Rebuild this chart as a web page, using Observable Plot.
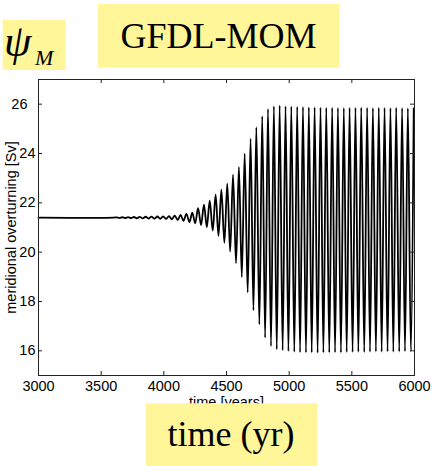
<!DOCTYPE html>
<html><head><meta charset="utf-8">
<script src="https://cdn.jsdelivr.net/npm/d3@7"></script>
<script src="https://cdn.jsdelivr.net/npm/@observablehq/plot@0.6"></script>
<style>
body{margin:0;background:#fff;}
#wrap{position:relative;width:434px;height:466px;overflow:hidden;background:#fff;}
#wrap svg{display:block;}
#wrap svg.overlay{position:absolute;left:0;top:0;}
</style></head><body><div id="wrap"></div>
<script>
// ---- data ----
const flatYears = [3000, 3600];
const flatValues = [21.4, 21.4];

const peakYears = [3622,3669,3715,3762,3808,3855,3901,3948,3994,4041,4087,4134,4180,4227,4273,4320,4366,4413,4459,4506,4552,4599,4645,4692,4738,4785,4831,4878,4924,4971,5017,5064,5110,5157,5203,5250,5296,5343,5389,5436,5482,5529,5575,5622,5668,5715,5761,5808,5854,5901,5947,5994];
const peakValues = [21.41,21.415,21.42,21.425,21.43,21.435,21.44,21.445,21.45,21.46,21.48,21.51,21.55,21.60,21.78,21.93,22.09,22.33,22.53,22.78,23.14,23.46,23.99,24.60,25.07,25.51,25.81,25.92,25.95,25.92,25.91,25.90,25.89,25.88,25.88,25.87,25.86,25.86,25.85,25.85,25.86,25.86,25.87,25.86,25.85,25.86,25.86,25.85,25.86,25.85,25.84,25.83];

const troughYears = [3646,3692,3739,3785,3832,3878,3925,3971,4018,4064,4111,4157,4204,4250,4297,4343,4390,4436,4483,4529,4576,4622,4669,4715,4762,4808,4855,4901,4948,4994,5041,5087,5134,5180,5227,5273,5320,5366,5413,5459,5506,5552,5599,5645,5692,5738,5785,5831,5878,5924,5971];
const troughValues = [21.39,21.385,21.38,21.375,21.37,21.365,21.36,21.355,21.35,21.335,21.31,21.27,21.22,21.17,21.10,21.01,20.87,20.66,20.38,20.02,19.55,18.99,18.37,17.64,17.07,16.53,16.19,16.06,16.02,15.99,15.96,15.94,15.93,15.93,15.92,15.93,15.93,15.94,15.93,15.95,15.95,15.96,15.95,15.96,15.97,15.96,15.97,15.96,15.97,15.98,15.98];

const xTicks = [3000, 3500, 4000, 4500, 5000, 5500, 6000];
const yTicks = [16, 18, 20, 22, 24, 26];
const yTicksLower = [16, 18, 20, 22, 24];
const yTicksTop = [26];

const yLabel = "meridional overturning [Sv]";
const xLabel = "time [years]";
const titleText = "GFDL-MOM";
const symbolText = "\u03C8";
const symbolSub = "M";
const captionText = "time (yr)";

// ---- build series ----
const series = [];
flatYears.forEach((t, i) => series.push({t, v: flatValues[i]}));
peakYears.forEach((t, i) => series.push({t, v: peakValues[i]}));
troughYears.forEach((t, i) => series.push({t, v: troughValues[i]}));
series.sort((a, b) => a.t - b.t);

const W = 434, H = 466, ML = 38, MR = 20, MT = 79, MB = 91;
const frameW = W - ML - MR, frameH = H - MT - MB, tick = 4;

const chart = Plot.plot({
  width: W, height: H,
  marginLeft: ML, marginRight: MR, marginTop: MT, marginBottom: MB,
  style: {fontFamily: "'Liberation Sans', Arial, sans-serif", fontSize: "14px", color: "#000", background: "transparent"},
  x: {domain: [3000, 6000]},
  y: {domain: [15, 27]},
  marks: [
    Plot.line(series, {x: "t", y: "v", curve: "catmull-rom", stroke: "#000", strokeWidth: 1.8}),
    Plot.ruleX(xTicks, {x: d => d, insetTop: frameH - tick, stroke: "#222"}),
    Plot.ruleX(xTicks, {x: d => d, insetBottom: frameH - tick, stroke: "#222"}),
    Plot.ruleY(yTicks, {y: d => d, insetRight: frameW - tick, stroke: "#222"}),
    Plot.ruleY(yTicks, {y: d => d, insetLeft: frameW - tick, stroke: "#222"}),
    Plot.frame({stroke: "#222"}),
    Plot.axisX(xTicks, {anchor: "bottom", tickSize: 0, tickPadding: 5, label: null, tickFormat: "d", fontSize: 14.5}),
    Plot.axisY(yTicksLower, {anchor: "left", tickSize: 0, tickPadding: 3, label: null, tickFormat: "d", fontSize: 14.5}),
    Plot.axisY(yTicksTop, {anchor: "left", tickSize: 0, tickPadding: 11, label: null, tickFormat: "d", fontSize: 14.5}),
    Plot.text([yLabel], {text: d => d, frameAnchor: "left", dx: -27, rotate: -90, fontSize: 14.5, textAnchor: "middle", lineAnchor: "middle"}),
    Plot.text([xLabel], {text: d => d, frameAnchor: "bottom", dy: 27, fontSize: 14.5, textAnchor: "middle", lineAnchor: "middle"})
  ]
});
const wrap = document.getElementById("wrap");
wrap.appendChild(chart);

// ---- overlay annotation boxes ----
const ns = "http://www.w3.org/2000/svg";
const ov = document.createElementNS(ns, "svg");
ov.setAttribute("class", "overlay");
ov.setAttribute("width", W); ov.setAttribute("height", H);
const yellow = "#fff599";
function rect(x, y, w, h) {
  const r = document.createElementNS(ns, "rect");
  r.setAttribute("x", x); r.setAttribute("y", y); r.setAttribute("width", w); r.setAttribute("height", h);
  r.setAttribute("fill", yellow); ov.appendChild(r);
}
function text(str, x, y, size, anchor, italic) {
  const t = document.createElementNS(ns, "text");
  t.setAttribute("x", x); t.setAttribute("y", y);
  t.setAttribute("font-family", "'Liberation Serif', 'Times New Roman', serif");
  t.setAttribute("font-size", size);
  t.setAttribute("text-anchor", anchor);
  if (italic) t.setAttribute("font-style", "italic");
  t.setAttribute("fill", "#000");
  t.textContent = str; ov.appendChild(t);
}
rect(2.7, 20, 63, 50);
rect(98, 4, 241.5, 63.7);
rect(146, 403.3, 171, 63);
text(symbolText, 4, 56, 44, "start", true);
text(symbolSub, 35, 65, 22, "start", true);
text(titleText, 218.5, 48.3, 36, "middle", false);
text(captionText, 231, 446, 36, "middle", false);
wrap.appendChild(ov);
</script></body></html>
